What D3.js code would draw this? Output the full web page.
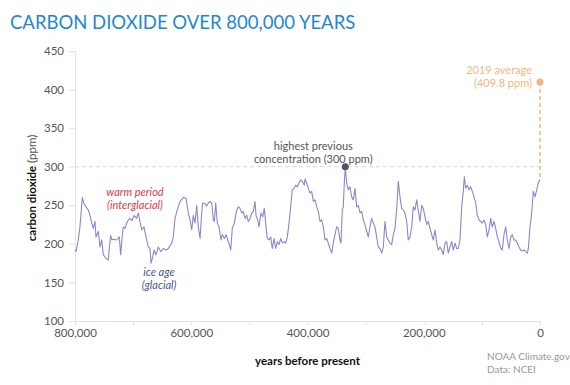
<html lang="en">
<head>
    <meta charset="UTF-8">
    <title>Carbon dioxide over 800,000 years</title>
    <script src="https://cdn.jsdelivr.net/npm/d3@7" type="text/javascript"></script>
    <style>
        body { margin: 0; background: #fff; }
        text { font-family: Lato, "Open Sans", sans-serif; }
    </style>
</head>
<body>
    <svg id="svg"></svg>

    <script>

        var WIDTH = 570;
        var HEIGHT = 385;

        // thousands of years before present
        var years = [800, 798.3, 794.3, 791.5, 787.4, 784.5, 781.1, 777.1, 774.2, 771.3, 768.5, 765.6, 763.9, 759.9, 757, 754, 751.3, 746.6, 742.7, 741,
            738.6, 736.8, 734.6, 728.2, 723.8, 721.4, 718.6, 716.9, 714, 710, 705.4, 701.9, 698.5, 693.8, 691.1, 688.2, 685.2, 681.3, 677.8, 673.9,
            670.9, 669.2, 666.3, 664.1, 660.6, 656.7, 652.5, 648.1, 643.4, 639.5, 633.6, 630.9, 627.9, 624, 619.3, 613.7, 609, 605.1, 602.2, 599.2,
            596.5, 593.5, 590.6, 587.9, 584.9, 582, 580.3, 576.3, 573.4, 570.7, 567.7, 564.8, 562, 560.3, 557.9, 555.2, 552.3, 548.8, 546.6, 543.1,
            540.2, 537.3, 534.5, 532.1, 529.4, 525.9, 521.8, 519, 516.1, 513.2, 510.4, 507.5, 504.6, 501.8, 498.9, 496, 493.2, 490.3, 488.6, 485.7,
            483.4, 480, 477.1, 474.3, 471.4, 469.2, 466.2, 463.3, 460.6, 457.6, 454.7, 452, 449, 446.1, 443.3, 440.4, 437.5, 434.7, 431.8, 428.4,
            426.1, 423.2, 420.3, 417.5, 414.6, 411.7, 408.9, 405.5, 404.3, 401.4, 398.6, 395.7, 392.8, 390, 387.1, 384.2, 381.4, 378.5, 375.6, 372.8,
            369.9, 367, 364.2, 361.3, 358.4, 355.6, 352.7, 349.8, 347, 344.1, 342.4, 340.1, 338.4, 336.7, 335, 332.6, 329.8, 326.9, 324, 321.2,
            318.3, 315.4, 312.6, 309.7, 306.8, 304, 301.1, 298.1, 295.4, 292.5, 289.6, 286.8, 283.9, 281, 278.2, 275.3, 272.3, 269.6, 266.7, 263.8,
            261, 258.1, 255.1, 252.4, 249.5, 246.5, 243.8, 240.9, 238, 235.2, 232.3, 229.3, 226.6, 223.7, 220.7, 218, 215.1, 212.1, 209.4, 206.5,
            203.5, 200.8, 197.8, 194.9, 192.2, 189.2, 186.3, 183.6, 180.6, 177.7, 175, 172, 169.1, 166.4, 163.4, 160.5, 157.8, 154.8, 151.9, 149.2,
            146.2, 143.3, 140.6, 137.6, 134.7, 132, 130.2, 127.8, 125.1, 122.1, 119.2, 116.5, 113.5, 110.6, 107.9, 104.9, 102, 99.3, 96.3, 93.4,
            90.7, 87.7, 84.8, 82.1, 79.1, 76.2, 73.5, 70.5, 67.6, 64.9, 61.9, 59, 56.3, 53.3, 50.4, 47.7, 44.7, 41.8, 39.1, 36.1,
            33.2, 30.5, 27.5, 24.6, 21.8, 20.1, 17.2, 14.3, 11.5, 8.6, 5.7, 2.9, 1.7, 0];

        // carbon dioxide, ppm
        var co2 = [192, 190, 205, 222, 260, 252, 248, 244, 237, 227, 220, 229, 209, 216, 196, 205, 186, 181, 179, 195,
            211, 205, 206, 205, 209, 186, 211, 222, 220, 229, 233, 230, 237, 233, 240, 229, 218, 222, 209, 196,
            194, 175, 183, 192, 186, 196, 190, 194, 192, 194, 201, 209, 233, 244, 255, 260, 259, 240, 231, 218,
            237, 227, 250, 222, 207, 240, 253, 252, 249, 253, 255, 253, 231, 229, 253, 227, 222, 205, 212, 207,
            212, 205, 199, 192, 220, 227, 244, 248, 246, 240, 242, 233, 237, 229, 233, 240, 242, 255, 237, 231,
            222, 240, 235, 246, 222, 207, 205, 209, 194, 207, 194, 203, 199, 207, 201, 203, 201, 209, 227, 253,
            270, 272, 276, 274, 279, 283, 281, 276, 284, 279, 272, 266, 268, 255, 257, 248, 242, 229, 231, 222,
            205, 207, 201, 194, 188, 201, 212, 222, 220, 205, 201, 244, 248, 279, 299, 279, 270, 274, 261, 257,
            272, 248, 250, 240, 242, 231, 225, 216, 209, 222, 233, 227, 222, 209, 196, 194, 188, 196, 229, 209,
            205, 201, 199, 212, 220, 246, 281, 261, 246, 244, 240, 229, 205, 209, 222, 248, 244, 257, 244, 229,
            250, 246, 235, 225, 229, 220, 212, 205, 218, 201, 192, 196, 192, 186, 201, 203, 188, 196, 203, 192,
            201, 194, 194, 205, 248, 268, 287, 272, 276, 270, 274, 268, 261, 253, 237, 231, 229, 227, 231, 225,
            209, 218, 233, 222, 229, 220, 209, 203, 194, 192, 212, 222, 205, 194, 209, 212, 205, 205, 201, 196,
            192, 191, 192, 190, 188, 194, 222, 240, 268, 261, 270, 279, 281, 283];

        var yTicks = [100, 150, 200, 250, 300, 350, 400, 450];
        var xTicks = [800, 700, 600, 500, 400, 300, 200, 100, 0];
        var xLabels = [800, 600, 400, 200, 0];

        var previousMax = { year: 335, ppm: 300 };
        var current = { year: 0, ppm: 409.8 };

        var LEFT = 75, RIGHT = 540, TOP = 51, BOTTOM = 321;

        var xScale = d3.scaleLinear()
                        .domain([800, 0])
                        .range([LEFT, RIGHT]);

        var yScale = d3.scaleLinear()
                        .domain([100, 450])
                        .range([BOTTOM, TOP]);

        var svg = d3.select('#svg')
                    .attr("width", WIDTH)
                    .attr("height", HEIGHT);

        var fmt = d3.format(",");

        // title
        svg.append("text")
            .attr("x", 10)
            .attr("y", 29)
            .attr("fill", "#1e88cf")
            .attr("font-size", "18.5px")
            .text("CARBON DIOXIDE OVER 800,000 YEARS");

        // y axis
        var yAxis = d3.axisLeft(yScale)
                        .tickValues(yTicks)
                        .tickSize(6)
                        .tickPadding(5);

        var gy = svg.append("g")
            .attr("transform", "translate(" + LEFT + ",0)")
            .call(yAxis);

        // x axis
        var xAxis = d3.axisBottom(xScale)
                        .tickValues(xTicks)
                        .tickSize(4)
                        .tickPadding(4)
                        .tickFormat(function(d){
                            return xLabels.indexOf(d) >= 0 ? fmt(d * 1000) : "";
                        });

        var gx = svg.append("g")
            .attr("transform", "translate(0," + BOTTOM + ")")
            .call(xAxis);

        [gx, gy].forEach(function(g){
            g.select(".domain").attr("stroke", "#e3e3e3");
            g.selectAll(".tick line").attr("stroke", "#e3e3e3");
            g.selectAll(".tick text")
                .attr("fill", "#555")
                .attr("font-size", "11.5px")
                .attr("font-family", "Lato, sans-serif");
        });

        // 300 ppm reference line
        svg.append("line")
            .attr("x1", LEFT)
            .attr("x2", xScale(current.year))
            .attr("y1", yScale(previousMax.ppm))
            .attr("y2", yScale(previousMax.ppm))
            .attr("stroke", "#d6d6d6")
            .attr("stroke-dasharray", "4,3");

        // 2019 dashed drop line
        svg.append("line")
            .attr("x1", xScale(current.year))
            .attr("x2", xScale(current.year))
            .attr("y1", yScale(current.ppm))
            .attr("y2", yScale(co2[co2.length - 1]))
            .attr("stroke", "#f6b57f")
            .attr("stroke-width", 1.5)
            .attr("stroke-dasharray", "4,3");

        // co2 line
        var line = d3.line()
                    .x(function(d, i){ return xScale(years[i]); })
                    .y(function(d){ return yScale(d); });

        svg.append("path")
            .datum(co2)
            .attr("d", line)
            .attr("fill", "none")
            .attr("stroke", "#8c86cf")
            .attr("stroke-width", 1.1)
            .attr("stroke-linejoin", "round");

        // dots
        svg.append("circle")
            .attr("cx", xScale(previousMax.year))
            .attr("cy", yScale(previousMax.ppm))
            .attr("r", 3.5)
            .attr("fill", "#555");

        svg.append("circle")
            .attr("cx", xScale(current.year))
            .attr("cy", yScale(current.ppm))
            .attr("r", 3.5)
            .attr("fill", "#f6b57f");

        // annotations, one text per line
        function note(lines, x, y, color, anchor, italic){
            svg.selectAll(null)
                .data(lines)
                .enter()
                .append("text")
                .attr("x", x)
                .attr("y", function(d, i){ return y + i * 12.5; })
                .attr("fill", color)
                .attr("font-size", "11px")
                .attr("text-anchor", anchor)
                .attr("font-style", italic ? "italic" : "normal")
                .text(function(d){ return d; });
        }

        note(["warm period", "(interglacial)"], 135, 196, "#dd3b45", "middle", true);
        note(["ice age", "(glacial)"], 159, 276, "#44598e", "middle", true);
        note(["highest previous", "concentration (300 ppm)"], xScale(previousMax.year) - 32, 150, "#555", "middle", false);
        note(["2019 average", "(409.8 ppm)"], 532, 74, "#f6b57f", "end", false);

        // axis titles
        var yt = svg.append("text")
            .attr("transform", "translate(36," + ((TOP + BOTTOM) / 2 + 2) + ") rotate(-90)")
            .attr("text-anchor", "middle")
            .attr("font-size", "11.5px")
            .attr("fill", "#111");
        yt.append("tspan").attr("font-weight", "bold").text("carbon dioxide ");
        yt.append("tspan").attr("fill", "#555").text("(ppm)");

        svg.append("text")
            .attr("x", (LEFT + RIGHT) / 2)
            .attr("y", 365)
            .attr("text-anchor", "middle")
            .attr("font-size", "11.5px")
            .attr("font-weight", "bold")
            .attr("fill", "#111")
            .text("years before present");

        // credits
        svg.append("text")
            .attr("x", 487)
            .attr("y", 360)
            .attr("font-size", "10px")
            .attr("fill", "#999")
            .text("NOAA Climate.gov");
        svg.append("text")
            .attr("x", 487)
            .attr("y", 373)
            .attr("font-size", "10px")
            .attr("fill", "#999")
            .text("Data: NCEI");

    </script>

</body>
</html>
